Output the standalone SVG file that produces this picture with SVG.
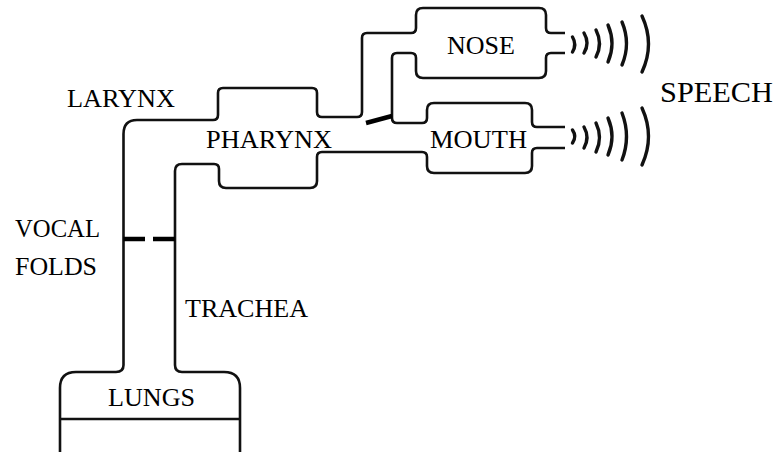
<svg xmlns="http://www.w3.org/2000/svg" width="778" height="452" viewBox="0 0 778 452">
  <style>
    .wall { fill: none; stroke: #111; stroke-width: 2.6; stroke-linejoin: round; stroke-linecap: butt; }
    .fold { fill: none; stroke: #000; stroke-width: 4.5; stroke-linecap: butt; }
    .wave { fill: none; stroke: #111; stroke-width: 3.4; stroke-linecap: round; }
    .lbl { font-family: "Liberation Serif", "Times New Roman", serif; font-size: 26px; fill: #000; }
  </style>
  <rect width="778" height="452" fill="#fff"/>

  <!-- vocal tract walls -->
  <g id="tract">
    <!-- outer wall: lungs, larynx, pharynx top, nose top -->
    <path class="wall" d="M 60,452 L 60,388 Q 60,372 76,372 L 116,372 Q 123.5,372 123.5,365
      L 123.5,134 Q 123.5,120 137,120 L 213,120 Q 218,120 218,115 L 218,93 Q 218,88 223,88
      L 312,88 Q 317,88 317,93 L 317,112 Q 317,117 322,117 L 357,117 Q 362,117 362,112
      L 362,38 Q 362,33 367,33 L 411,33 Q 416,33 416,28 L 416,15 Q 416,8 423,8
      L 539,8 Q 546,8 546,15 L 546,28 Q 546,33 551,33 L 565,33"/>
    <!-- wall between nasal and oral passages -->
    <path class="wall" d="M 565,53 L 551,53 Q 546,53 546,58 L 546,71 Q 546,78 539,78 L 423,78
      Q 416,78 416,71 L 416,58 Q 416,53 411,53 L 397,53 Q 392,53 392,58 L 392,118
      Q 392,123 397,123 L 422,123 Q 427,123 427,118 L 427,110 Q 427,103 434,103
      L 525,103 Q 532,103 532,110 L 532,122 Q 532,127 537,127 L 565,127"/>
    <!-- inner wall: mouth floor, pharynx bottom, trachea, lungs -->
    <path class="wall" d="M 565,148 L 537,148 Q 532,148 532,153 L 532,166 Q 532,173 525,173
      L 434,173 Q 427,173 427,166 L 427,157 Q 427,152 422,152 L 322,152 Q 317,152 317,157
      L 317,181 Q 317,188 310,188 L 226,188 Q 219,188 219,181 L 219,169 Q 219,164 214,164
      L 182,164 Q 175,164 175,171 L 175,365 Q 175,372 182,372 L 224,372 Q 240,372 240,388 L 240,452"/>
    <!-- lungs divider -->
    <line class="wall" x1="60" y1="419" x2="240" y2="419" stroke-width="2"/>
  </g>

  <!-- vocal folds and velum -->
  <g id="folds">
    <line class="fold" x1="123.5" y1="239" x2="145" y2="239"/>
    <line class="fold" x1="153" y1="239" x2="175" y2="239"/>
    <line class="fold" x1="366" y1="123" x2="392" y2="116"/>
  </g>

  <!-- sound waves from nose -->
  <g id="waves-nose">
    <path class="wave" d="M 572.5,37 Q 577,44.5 572.5,52"/>
    <path class="wave" d="M 584,33 Q 590,43 584,53"/>
    <path class="wave" d="M 596,30 Q 603,43.5 596,57"/>
    <path class="wave" d="M 608,25 Q 616,43.5 608,62"/>
    <path class="wave" d="M 622,22 Q 631,43.5 622,65"/>
    <path class="wave" d="M 642,16 Q 655,44 642,72"/>
  </g>
  <!-- sound waves from mouth -->
  <g id="waves-mouth">
    <path class="wave" d="M 572.5,130 Q 577,136.5 572.5,143"/>
    <path class="wave" d="M 584,127 Q 590,137.5 584,148"/>
    <path class="wave" d="M 596,123 Q 603,137.5 596,152"/>
    <path class="wave" d="M 608,118 Q 616,136.5 608,155"/>
    <path class="wave" d="M 622,113 Q 631,136.5 622,160"/>
    <path class="wave" d="M 642,108 Q 655,136.5 642,165"/>
  </g>

  <!-- labels -->
  <g id="larynx"><text class="lbl" x="67" y="107" textLength="108" lengthAdjust="spacingAndGlyphs">LARYNX</text></g>
  <g id="pharynx"><text class="lbl" x="206" y="148" textLength="126" lengthAdjust="spacingAndGlyphs">PHARYNX</text></g>
  <g id="nose"><text class="lbl" x="447" y="54" textLength="68" lengthAdjust="spacingAndGlyphs">NOSE</text></g>
  <g id="mouth"><text class="lbl" x="430" y="148" textLength="97" lengthAdjust="spacingAndGlyphs">MOUTH</text></g>
  <g id="speech"><text class="lbl" x="660" y="102" font-size="30" textLength="113" lengthAdjust="spacingAndGlyphs" style="font-size:30px">SPEECH</text></g>
  <g id="vocal-folds">
    <text class="lbl" x="15" y="237" textLength="85" lengthAdjust="spacingAndGlyphs">VOCAL</text>
    <text class="lbl" x="15" y="275" textLength="82" lengthAdjust="spacingAndGlyphs">FOLDS</text>
  </g>
  <g id="trachea"><text class="lbl" x="185" y="317" textLength="123" lengthAdjust="spacingAndGlyphs">TRACHEA</text></g>
  <g id="lungs"><text class="lbl" x="108" y="406" textLength="87" lengthAdjust="spacingAndGlyphs">LUNGS</text></g>
</svg>
